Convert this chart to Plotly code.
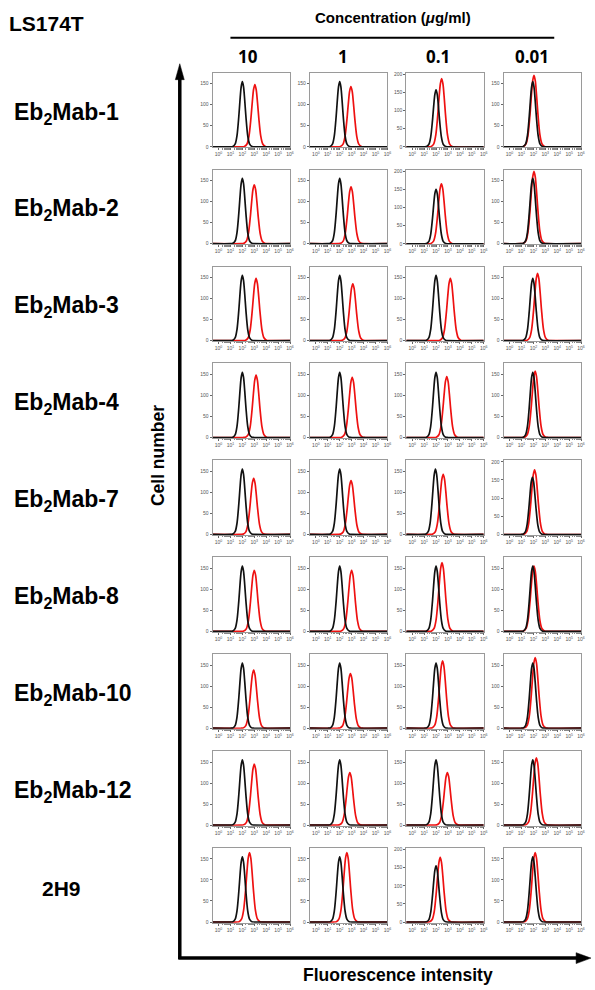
import math
import plotly.graph_objects as go

W, H = 595, 990

ROWS = ["Eb<sub>2</sub>Mab-1", "Eb<sub>2</sub>Mab-2", "Eb<sub>2</sub>Mab-3", "Eb<sub>2</sub>Mab-4",
        "Eb<sub>2</sub>Mab-7", "Eb<sub>2</sub>Mab-8", "Eb<sub>2</sub>Mab-10", "Eb<sub>2</sub>Mab-12", "2H9"]
COLS = ["10", "1", "0.1", "0.01"]

# log10 fluorescence at peak (decades) and peak cell count, per row x column
RED_CENTER = [
    [3.05, 2.94, 2.47, 2.05],
    [3.00, 2.95, 2.45, 2.05],
    [3.15, 3.10, 3.20, 2.35],
    [3.15, 3.05, 2.90, 2.15],
    [2.95, 2.95, 2.60, 2.10],
    [3.00, 3.00, 2.50, 2.05],
    [2.95, 2.90, 2.55, 2.15],
    [3.00, 2.85, 2.95, 2.25],
    [2.60, 2.60, 2.35, 2.15],
]
RED_PEAK = [
    [148, 143, 188, 170],
    [140, 135, 165, 172],
    [148, 135, 148, 160],
    [148, 143, 145, 158],
    [133, 128, 143, 178],
    [145, 145, 163, 155],
    [138, 130, 160, 168],
    [145, 125, 125, 160],
    [165, 165, 178, 165],
]
BLACK_CENTER = [
    [2.00, 2.00, 2.00, 1.95],
    [2.00, 2.00, 2.00, 1.95],
    [2.00, 2.00, 2.00, 1.95],
    [2.00, 2.00, 2.00, 1.95],
    [2.00, 2.00, 1.95, 1.92],
    [2.00, 2.00, 2.00, 1.95],
    [2.00, 2.00, 2.00, 1.95],
    [2.00, 2.00, 2.00, 1.95],
    [2.00, 2.00, 2.00, 1.95],
]
BLACK_PEAK = [
    [155, 155, 157, 155],
    [155, 155, 150, 155],
    [155, 155, 155, 148],
    [155, 155, 155, 155],
    [155, 155, 155, 157],
    [155, 155, 155, 155],
    [155, 155, 155, 155],
    [155, 155, 155, 155],
    [155, 155, 155, 155],
]
Y_TOP_TICK = [
    [150, 150, 200, 150],
    [150, 150, 200, 150],
    [150, 150, 150, 150],
    [150, 150, 150, 150],
    [150, 150, 150, 200],
    [150, 150, 150, 150],
    [150, 150, 150, 150],
    [150, 150, 150, 150],
    [150, 150, 200, 150],
]
# shared histogram profile read from the control peaks (offset in decades, relative height)
PROFILE_OFFSET = [-1.0, -0.8, -0.6, -0.45, -0.3, -0.2, -0.1, 0.0, 0.1, 0.2, 0.3, 0.45, 0.6, 0.8, 1.0]
PROFILE_HEIGHT = [0.0, 0.005, 0.045, 0.17, 0.46, 0.71, 0.92, 1.0, 0.92, 0.71, 0.46, 0.17, 0.045, 0.005, 0.0]
X_TICKS = [0, 1, 2, 3, 4, 5, 6]
X_TICK_TEXT = ["10<sup>0</sup>", "10<sup>1</sup>", "10<sup>2</sup>", "10<sup>3</sup>",
               "10<sup>4</sup>", "10<sup>5</sup>", "10<sup>6</sup>"]

# layout geometry (pixels)
COL_LEFT = [214, 312, 409, 507]
PANEL_W = 78
ROW_TOP0, ROW_STEP, PANEL_H = 71, 97.3, 75
XR = [-0.5, 6.0]


def px(x):
    return x / W


def py(y):
    return 1 - y / H


minor_vals = [d + math.log10(m) for d in range(0, 6) for m in range(2, 10)]

fig = go.Figure()
layout = {}
for i in range(len(ROWS)):
    for j in range(len(COLS)):
        k = i * 4 + j + 1
        xs = "x" if k == 1 else f"x{k}"
        ys = "y" if k == 1 else f"y{k}"
        xl = "xaxis" if k == 1 else f"xaxis{k}"
        yl = "yaxis" if k == 1 else f"yaxis{k}"
        top = ROW_TOP0 + i * ROW_STEP
        left = COL_LEFT[j]
        ytop = Y_TOP_TICK[i][j]
        ymax = 176 if ytop == 150 else 204
        for center, peak, color, wf in [
            (RED_CENTER[i][j], RED_PEAK[i][j], "#ee1111", 1.1),
            (BLACK_CENTER[i][j], BLACK_PEAK[i][j], "#111111", 1.0),
        ]:
            xv = [XR[0]] + [center + o * wf for o in PROFILE_OFFSET] + [XR[1]]
            yv = [0] + [peak * h for h in PROFILE_HEIGHT] + [0]
            fig.add_trace(go.Scatter(x=xv, y=yv, mode="lines", xaxis=xs, yaxis=ys,
                                     line=dict(color=color, width=1.7, shape="spline", smoothing=0.8),
                                     showlegend=False, hoverinfo="skip"))
        layout[xl] = dict(domain=[px(left), px(left + PANEL_W)], range=XR, anchor=ys,
                          showgrid=False, zeroline=False, showline=True, mirror=True,
                          linecolor="#9a9a9a", linewidth=1,
                          tickmode="array", tickvals=X_TICKS, ticktext=X_TICK_TEXT,
                          ticks="outside", ticklen=2, tickwidth=0.6, tickcolor="#666",
                          tickfont=dict(size=5, color="#555", family="Liberation Sans"),
                          minor=dict(tickmode="array", tickvals=minor_vals, ticks="outside",
                                     ticklen=1.2, tickcolor="#888", tickwidth=0.5),
                          fixedrange=True)
        yt = [0, 50, 100, 150] + ([200] if ytop == 200 else [])
        layout[yl] = dict(domain=[py(top + PANEL_H), py(top)], range=[-1.5, ymax], anchor=xs,
                          showgrid=False, zeroline=False, showline=True, mirror=True,
                          linecolor="#9a9a9a", linewidth=1,
                          tickmode="array", tickvals=yt, ticktext=[str(v) for v in yt],
                          ticks="outside", ticklen=2, tickwidth=0.6, tickcolor="#666",
                          tickfont=dict(size=5, color="#555", family="Liberation Sans"),
                          fixedrange=True)

ann = []
F = "Liberation Sans"
ann.append(dict(text="<b>LS174T</b>", x=px(7), y=py(22), xanchor="left", yanchor="middle",
                font=dict(size=21, family=F, color="black")))
ann.append(dict(text="<b>Concentration (<i>μ</i>g/ml)</b>", x=px(396), y=py(16), xanchor="center",
                yanchor="middle", font=dict(size=15, family=F, color="black")))
col_cx = [250, 345, 441, 536]
for j, c in enumerate(COLS):
    ann.append(dict(text=f"<b>{c}</b>", x=px(col_cx[j]), y=py(55), xanchor="center", yanchor="middle",
                    font=dict(size=17, family="Open Sans", color="black")))
for i, r in enumerate(ROWS):
    cy = ROW_TOP0 + i * ROW_STEP + PANEL_H / 2 + 3
    if r == "2H9":
        ann.append(dict(text=f"<b>{r}</b>", x=px(62), y=py(cy), xanchor="center", yanchor="middle",
                        font=dict(size=21, family=F, color="black")))
    else:
        ann.append(dict(text=f"<b>{r}</b>", x=px(12), y=py(cy), xanchor="left", yanchor="middle",
                        font=dict(size=23, family=F, color="black")))
ann.append(dict(text="<b>Cell number</b>", x=px(159), y=py(455), textangle=-90, xanchor="center",
                yanchor="middle", font=dict(size=17.5, family=F, color="black")))
ann.append(dict(text="<b>Fluorescence intensity</b>", x=px(401), y=py(977), xanchor="center",
                yanchor="middle", font=dict(size=17.5, family=F, color="black")))
for a in ann:
    a.update(xref="paper", yref="paper", showarrow=False)

shapes = [
    dict(type="line", xref="paper", yref="paper", x0=px(232), x1=px(558), y0=py(36), y1=py(36),
         line=dict(color="black", width=2)),
    dict(type="line", xref="paper", yref="paper", x0=px(181), x1=px(181), y0=py(961), y1=py(72),
         line=dict(color="black", width=3.5)),
    dict(type="path", xref="paper", yref="paper",
         path=f"M {px(176.5)} {py(78)} L {px(181)} {py(62)} L {px(185.5)} {py(78)} Z",
         fillcolor="black", line=dict(color="black", width=0.5)),
    dict(type="line", xref="paper", yref="paper", x0=px(179.5), x1=px(584), y0=py(960), y1=py(960),
         line=dict(color="black", width=3.5)),
    dict(type="path", xref="paper", yref="paper",
         path=f"M {px(580)} {py(954.5)} L {px(595)} {py(960)} L {px(580)} {py(965.5)} Z",
         fillcolor="black", line=dict(color="black", width=0.5)),
]

fig.update_layout(width=W, height=H, margin=dict(l=0, r=0, t=0, b=0),
                  paper_bgcolor="white", plot_bgcolor="white",
                  annotations=ann, shapes=shapes, **layout)
fig.write_html("out.html")
